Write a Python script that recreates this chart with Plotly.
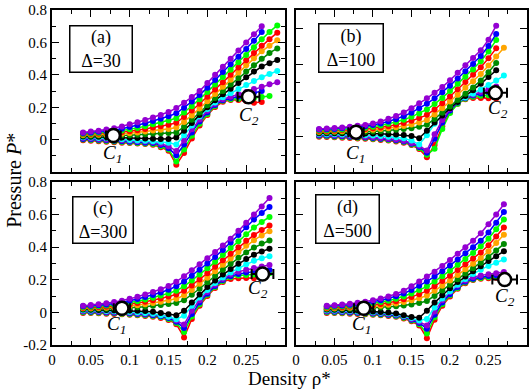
import plotly.graph_objects as go

# ---------------- data ----------------
rho_a = [0.04, 0.05, 0.06, 0.07, 0.08, 0.09, 0.10, 0.11, 0.12, 0.13, 0.14, 0.15, 0.16,
         0.17, 0.18, 0.19, 0.20, 0.21, 0.22, 0.23, 0.24, 0.25, 0.26, 0.27, 0.28, 0.29]
rho_b = [0.03, 0.04, 0.05, 0.06, 0.07, 0.08, 0.09, 0.10, 0.11, 0.12, 0.13, 0.14, 0.15,
         0.16, 0.17, 0.18, 0.19, 0.20, 0.21, 0.22, 0.23, 0.24, 0.25, 0.26, 0.27]
rho_c = [0.04, 0.05, 0.06, 0.07, 0.08, 0.09, 0.10, 0.11, 0.12, 0.13, 0.14, 0.15, 0.16,
         0.17, 0.18, 0.19, 0.20, 0.21, 0.22, 0.23, 0.24, 0.25, 0.26, 0.27, 0.28]
rho_d = [0.04, 0.05, 0.06, 0.07, 0.08, 0.09, 0.10, 0.11, 0.12, 0.13, 0.14, 0.15, 0.16,
         0.17, 0.18, 0.19, 0.20, 0.21, 0.22, 0.23, 0.24, 0.25, 0.26, 0.27]

# isotherm colours, lowest temperature first
colors = ["#ff0000", "#00ff00", "#0000ff", "#9400d3", "#00ffff", "#000000",
          "#008b00", "#ffa500", "#ff0000", "#00ff00", "#0000ff", "#9400d3"]

P_a = [
    [-.003, -.006, -.009, -.012, -.015, -.018, -.021, -.024, -.027, -.031, -.046, -.068, -.155, -.082, .008, .088, .152, .202, .234, .245, .245, .238, .228, .232],
    [.001, -.002, -.005, -.008, -.011, -.014, -.017, -.020, -.023, -.027, -.040, -.060, -.135, -.060, .025, .098, .158, .208, .240, .250, .253, .254, .257, .263, .270],
    [.005, .003, .000, -.003, -.006, -.009, -.012, -.015, -.018, -.021, -.033, -.052, -.096, -.030, .045, .113, .168, .214, .244, .257, .266, .276, .289, .300],
    [.010, .008, .005, .002, -.001, -.004, -.007, -.009, -.011, -.014, -.025, -.040, -.070, -.005, .065, .125, .178, .222, .250, .265, .280, .295, .312, .327, .342, .355],
    [.015, .013, .011, .009, .006, .003, -.002, -.005, -.007, -.009, -.013, -.018, -.030, .028, .088, .143, .190, .230, .262, .287, .312, .337, .362, .385, .405, .424],
    [.020, .019, .018, .017, .016, .014, .012, .010, .008, .006, .004, .004, .013, .055, .103, .153, .200, .243, .280, .315, .350, .385, .420, .452, .472, .491],
    [.025, .025, .026, .026, .027, .027, .028, .030, .034, .038, .040, .042, .045, .080, .123, .168, .212, .257, .300, .340, .380, .420, .460, .500, .535, .563],
    [.029, .030, .031, .033, .035, .037, .040, .044, .050, .057, .061, .066, .075, .110, .150, .193, .237, .282, .327, .370, .415, .460, .502, .545, .580, .613],
    [.033, .035, .037, .040, .043, .047, .052, .058, .066, .075, .083, .092, .104, .140, .180, .222, .265, .310, .355, .400, .445, .490, .535, .580, .620, .660],
    [.037, .040, .043, .047, .051, .057, .064, .073, .083, .095, .106, .118, .132, .168, .207, .250, .295, .341, .387, .432, .477, .523, .570, .620, .665, .705],
    [.041, .045, .049, .054, .060, .068, .078, .089, .101, .115, .129, .145, .163, .197, .235, .275, .320, .368, .417, .465, .512, .560, .610, .665],
    [.045, .050, .056, .063, .071, .082, .095, .108, .122, .137, .153, .171, .195, .228, .263, .300, .350, .400, .450, .500, .550, .600, .650, .700],
]
P_b = [
    [-.004, -.005, -.007, -.009, -.011, -.013, -.015, -.018, -.021, -.025, -.030, -.037, -.050, -.072, -.118, -.050, .055, .132, .180, .205, .211, .212, .210, .209],
    [.000, -.001, -.003, -.005, -.007, -.009, -.011, -.014, -.017, -.021, -.026, -.033, -.046, -.066, -.103, -.070, .040, .128, .180, .207, .218, .224, .227, .230],
    [.004, .003, .001, -.001, -.003, -.005, -.008, -.011, -.014, -.018, -.023, -.030, -.042, -.060, -.092, -.015, .075, .142, .186, .211, .225, .236, .245, .254],
    [.008, .007, .005, .003, .001, -.001, -.004, -.007, -.010, -.014, -.019, -.026, -.038, -.055, -.080, .010, .090, .150, .190, .214, .230, .245, .260, .275],
    [.012, .011, .010, .009, .008, .007, .005, .003, .000, -.003, -.007, -.012, -.025, -.046, .005, .068, .120, .160, .190, .214, .235, .258, .283, .308, .336],
    [.016, .016, .016, .016, .015, .015, .015, .014, .013, .011, .009, .006, .001, -.012, .030, .075, .115, .155, .190, .222, .255, .290, .328, .365],
    [.020, .020, .021, .021, .022, .023, .024, .026, .028, .031, .035, .039, .044, .052, .063, .095, .130, .165, .200, .235, .270, .308, .355, .406],
    [.024, .025, .026, .027, .028, .030, .032, .035, .039, .043, .049, .056, .064, .075, .090, .120, .155, .192, .230, .268, .305, .345, .392, .442, .490],
    [.028, .029, .030, .032, .034, .036, .039, .043, .048, .055, .063, .073, .085, .100, .118, .148, .182, .220, .260, .300, .340, .382, .432, .487],
    [.032, .033, .035, .037, .040, .043, .047, .052, .059, .068, .078, .091, .107, .126, .148, .178, .212, .250, .290, .330, .370, .415, .470, .533],
    [.036, .038, .040, .043, .046, .050, .055, .061, .070, .081, .094, .110, .130, .154, .180, .210, .243, .280, .320, .360, .400, .445, .500, .567],
    [.040, .042, .045, .048, .052, .057, .062, .070, .081, .096, .112, .131, .155, .182, .210, .240, .272, .310, .352, .393, .433, .476, .535, .613],
]
P_c = [
    [-.003, -.004, -.006, -.008, -.010, -.012, -.015, -.018, -.022, -.027, -.034, -.046, -.072, -.154, -.040, .040, .100, .150, .186, .205, .210, .211, .210, .212],
    [.001, .000, -.002, -.004, -.006, -.008, -.011, -.014, -.018, -.022, -.029, -.040, -.065, -.120, -.025, .050, .108, .155, .192, .215, .226, .230, .233, .236, .240],
    [.005, .004, .002, .000, -.002, -.004, -.007, -.010, -.013, -.017, -.024, -.034, -.058, -.095, -.010, .060, .115, .162, .198, .222, .236, .244, .250, .255, .260],
    [.009, .008, .006, .004, .002, .000, -.002, -.005, -.008, -.012, -.018, -.027, -.050, -.075, .010, .075, .125, .170, .205, .232, .250, .262, .272, .282, .291],
    [.013, .012, .011, .009, .007, .005, .003, .000, -.004, -.009, -.017, -.027, -.042, -.020, .040, .092, .138, .180, .214, .244, .271, .296, .316, .332, .345],
    [.017, .016, .015, .014, .013, .012, .011, .010, .008, .004, -.004, -.012, -.018, .010, .060, .110, .155, .196, .233, .266, .298, .328, .354, .374, .390],
    [.021, .021, .022, .023, .024, .026, .028, .031, .035, .040, .045, .051, .057, .075, .108, .145, .185, .225, .262, .298, .335, .368, .398, .422, .441],
    [.025, .026, .027, .029, .032, .035, .039, .044, .050, .057, .065, .074, .083, .105, .138, .175, .213, .252, .292, .330, .370, .408, .443, .472, .498],
    [.029, .030, .032, .035, .039, .044, .050, .057, .065, .074, .085, .097, .110, .133, .165, .202, .240, .280, .320, .360, .400, .440, .475, .505, .533],
    [.033, .035, .038, .042, .047, .053, .060, .069, .079, .090, .103, .117, .133, .160, .195, .232, .270, .310, .352, .395, .437, .480, .520, .555, .585],
    [.037, .040, .044, .049, .055, .062, .071, .082, .094, .107, .122, .139, .160, .190, .225, .262, .300, .340, .383, .428, .475, .522, .570, .610, .646],
    [.041, .045, .050, .056, .063, .072, .083, .096, .110, .125, .142, .162, .188, .222, .258, .295, .332, .370, .410, .452, .500, .550, .600, .650, .702],
]
P_d = [
    [-.003, -.004, -.006, -.008, -.010, -.012, -.015, -.018, -.022, -.027, -.037, -.055, -.080, -.158, -.045, .040, .098, .145, .178, .198, .206, .210, .212, .214],
    [.001, .000, -.002, -.004, -.006, -.008, -.011, -.014, -.018, -.023, -.033, -.050, -.072, -.130, -.030, .050, .105, .150, .183, .202, .211, .216, .220, .224],
    [.005, .004, .002, .000, -.002, -.004, -.007, -.010, -.014, -.019, -.029, -.045, -.065, -.100, -.015, .060, .112, .155, .188, .207, .217, .223, .228, .233],
    [.009, .008, .006, .004, .002, .000, -.003, -.006, -.010, -.015, -.025, -.040, -.058, -.080, .005, .075, .125, .165, .195, .215, .227, .234, .240, .247],
    [.013, .012, .010, .008, .006, .004, .001, -.002, -.006, -.012, -.022, -.035, -.050, -.040, .030, .085, .130, .170, .205, .235, .262, .285, .305, .324],
    [.017, .016, .015, .013, .011, .009, .006, .003, -.001, -.007, -.018, -.028, -.033, .010, .060, .105, .148, .186, .220, .252, .283, .315, .345, .375],
    [.021, .021, .022, .023, .024, .026, .028, .030, .033, .037, .042, .049, .057, .070, .100, .135, .170, .204, .238, .270, .304, .340, .380, .420],
    [.025, .026, .027, .029, .031, .034, .037, .041, .047, .054, .063, .074, .087, .103, .132, .163, .196, .230, .264, .298, .334, .375, .425, .476],
    [.029, .030, .032, .034, .037, .041, .046, .052, .059, .068, .080, .095, .112, .132, .160, .192, .225, .260, .295, .330, .368, .412, .465, .520],
    [.033, .035, .038, .041, .045, .050, .056, .063, .072, .084, .098, .116, .137, .160, .190, .222, .256, .292, .328, .365, .405, .452, .510, .570],
    [.037, .040, .043, .047, .052, .058, .065, .074, .085, .099, .116, .138, .163, .190, .220, .253, .288, .325, .362, .400, .440, .490, .550, .615],
    [.041, .044, .048, .053, .059, .066, .075, .085, .097, .113, .133, .160, .190, .220, .250, .285, .322, .360, .400, .440, .485, .540, .600, .663],
]

# critical points C1, C2: density, pressure, density error
crit_a_x = [0.079, 0.253]; crit_a_y = [0.026, 0.265]; crit_a_e = [0.0095, 0.014]
crit_b_x = [0.078, 0.259]; crit_b_y = [0.022, 0.240]; crit_b_e = [0.010, 0.015]
crit_c_x = [0.090, 0.271]; crit_c_y = [0.025, 0.236]; crit_c_e = [0.0105, 0.014]
crit_d_x = [0.088, 0.271]; crit_d_y = [0.025, 0.201]; crit_d_e = [0.0125, 0.016]

panel_tags = ["(a)", "(b)", "(c)", "(d)"]
deltas = ["\u0394=30", "\u0394=100", "\u0394=300", "\u0394=500"]

x_ticks = [0, 0.05, 0.1, 0.15, 0.2, 0.25]
x_ticktext = ["0", "0.05", "0.1", "0.15", "0.2", "0.25"]
y_ticks_top = [0, 0.2, 0.4, 0.6, 0.8]
y_ticktext_top = ["0", "0.2", "0.4", "0.6", "0.8"]
y_ticks_bot = [-0.2, 0, 0.2, 0.4, 0.6, 0.8]
y_ticktext_bot = ["-0.2", "0", "0.2", "0.4", "0.6", "0.8"]

# ---------------- figure ----------------
FONT = "Liberation Serif"
fig = go.Figure()

panels = [
    (rho_a, P_a, crit_a_x, crit_a_y, crit_a_e, "x", "y"),
    (rho_b, P_b, crit_b_x, crit_b_y, crit_b_e, "x2", "y2"),
    (rho_c, P_c, crit_c_x, crit_c_y, crit_c_e, "x3", "y3"),
    (rho_d, P_d, crit_d_x, crit_d_y, crit_d_e, "x4", "y4"),
]

for rho, curves, cx, cy, ce, xa, ya in panels:
    for i, vals in enumerate(curves):
        fig.add_trace(go.Scatter(
            x=rho[:len(vals)], y=vals, mode="lines+markers",
            line=dict(color=colors[i], width=1.5),
            marker=dict(color=colors[i], size=6, line=dict(width=0)),
            xaxis=xa, yaxis=ya, showlegend=False, hoverinfo="skip"))
    fig.add_trace(go.Scatter(
        x=cx, y=cy, mode="markers",
        marker=dict(symbol="circle", size=13, color="white",
                    line=dict(color="black", width=2.5)),
        error_x=dict(type="data", array=ce, color="black", thickness=2, width=5),
        xaxis=xa, yaxis=ya, showlegend=False, hoverinfo="skip"))

def axis_common():
    return dict(showline=True, linecolor="black", linewidth=2, mirror="allticks",
                ticks="inside", ticklen=7, tickwidth=1.2, tickcolor="black",
                showgrid=False, zeroline=False,
                tickfont=dict(family=FONT, size=15, color="black"))

xl = [0, 0.4906]
xr = [0.5136, 1.0]
yt = [0.516, 1.0]
yb = [0.0, 0.4867]

def xaxis(domain, anchor, labels):
    d = axis_common()
    d.update(domain=domain, anchor=anchor, range=[0, 0.3], tickmode="array",
             tickvals=x_ticks, ticktext=x_ticktext, showticklabels=labels,
             minor=dict(ticks="inside", ticklen=4, tickwidth=1.2, tickcolor="black",
                        tick0=0, dtick=0.025, showgrid=False))
    return d

def yaxis(domain, anchor, rng, labels, vals, text):
    d = axis_common()
    d.update(domain=domain, anchor=anchor, range=rng, tickmode="array",
             tickvals=vals, ticktext=text, showticklabels=labels,
             minor=dict(ticks="inside", ticklen=4, tickwidth=1.2, tickcolor="black",
                        tick0=-0.2, dtick=0.1, showgrid=False))
    return d

fig.update_layout(
    width=531, height=390,
    margin=dict(l=52, r=2, t=6, b=45),
    paper_bgcolor="white", plot_bgcolor="white",
    font=dict(family=FONT, color="black"),
    xaxis=xaxis(xl, "y", False),
    yaxis=yaxis(yt, "x", [-0.2, 0.8], True, y_ticks_top, y_ticktext_top),
    xaxis2=xaxis(xr, "y2", False),
    yaxis2=yaxis(yt, "x2", [-0.2, 0.7], False, y_ticks_bot, y_ticktext_bot),
    xaxis3=xaxis(xl, "y3", True),
    yaxis3=yaxis(yb, "x3", [-0.2, 0.8], True, y_ticks_bot, y_ticktext_bot),
    xaxis4=xaxis(xr, "y4", True),
    yaxis4=yaxis(yb, "x4", [-0.2, 0.8], False, y_ticks_bot, y_ticktext_bot),
)

ann = []
# panel label boxes
box_pos = [(0.209, 0.76, 59, 43), (0.238, 0.768, 61, 45), (0.217, 0.768, 57, 43), (0.221, 0.771, 60, 45)]
axes_ref = [("x", "y"), ("x2", "y2"), ("x3", "y3"), ("x4", "y4")]
for k in range(4):
    bx, by, bw, bh = box_pos[k]
    xr_, yr_ = axes_ref[k]
    ann.append(dict(xref=xr_ + " domain", yref=yr_ + " domain", x=bx, y=by,
                    xanchor="center", yanchor="middle", showarrow=False,
                    text=panel_tags[k] + "<br>" + deltas[k],
                    font=dict(family=FONT, size=18, color="black"),
                    bordercolor="black", borderwidth=1.5, borderpad=1,
                    bgcolor="white", width=bw, height=bh, align="center"))

# C1 / C2 labels
c_pos = [((0.261, 0.112), (0.846, 0.347)), ((0.257, 0.112), (0.875, 0.387)),
         ((0.276, 0.121), (0.882, 0.344)), ((0.283, 0.121), (0.904, 0.293))]
for k in range(4):
    xr_, yr_ = axes_ref[k]
    for j, (px, py) in enumerate(c_pos[k]):
        ann.append(dict(xref=xr_ + " domain", yref=yr_ + " domain", x=px, y=py,
                        xanchor="center", yanchor="middle", showarrow=False,
                        text="<i>C<sub>%d</sub></i>" % (j + 1),
                        font=dict(family=FONT, size=19, color="black")))

# axis titles
ann.append(dict(xref="paper", yref="paper", x=0.5, y=-0.101, xanchor="center",
                yanchor="middle", showarrow=False, text="Density \u03c1*",
                font=dict(family=FONT, size=19, color="black")))
ann.append(dict(xref="paper", yref="paper", x=-0.080, y=0.49, xanchor="center",
                yanchor="middle", showarrow=False, text="Pressure <i>P</i>*",
                textangle=-90, font=dict(family=FONT, size=20, color="black")))

fig.update_layout(annotations=ann)
fig.write_html("out.html", config={"displayModeBar": False},
               post_script="document.body.style.margin='0px';document.body.style.padding='0px';")
